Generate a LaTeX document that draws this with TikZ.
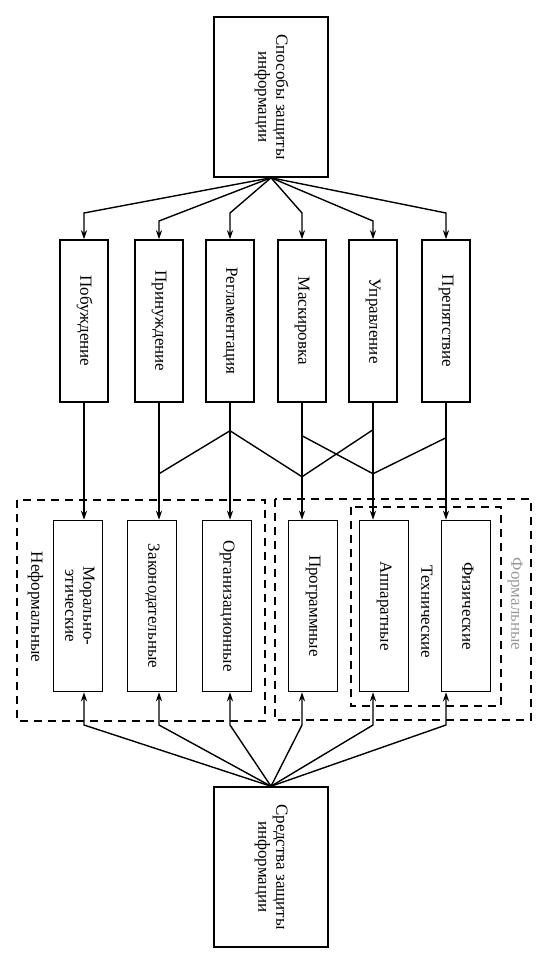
\documentclass[tikz,border=0pt]{standalone}
\usepackage{fontspec}
\setmainfont{Liberation Serif}
\usepackage{graphicx}
\usetikzlibrary{arrows.meta}
\newcommand{\vtext}[1]{\rotatebox{-90}{\begin{tabular}{@{}c@{}}#1\end{tabular}}}
\tikzset{%
    box/.style={draw, line width=1.5pt, inner sep=0pt,
        minimum width=48pt, minimum height=162pt},
    lowbox/.style={box, minimum width=49pt, minimum height=171pt},
    bigbox/.style={box, minimum width=114pt, minimum height=160pt},
    group/.style={draw, line width=1.5pt, dash pattern=on 8pt off 6pt}
}
\begin{document}
\begin{tikzpicture}[x=1pt,y=-1pt,->,>={Stealth[length=9pt,width=6pt]},
  line width=1.4pt,font=\fontsize{17}{18}\selectfont]
  \useasboundingbox (0,0) rectangle (545,971);

  % top and bottom
  \node[bigbox] (sp) at (271,97) {\vtext{Способы защиты\\информации}};
  \node[bigbox] (sr) at (271,867) {\vtext{Средства защиты\\информации}};

  % methods
  \node[box] (m1) at (84,321) {\vtext{Побуждение}};
  \node[box] (m2) at (159,321) {\vtext{Принуждение}};
  \node[box] (m3) at (230,321) {\vtext{Регламентация}};
  \node[box] (m4) at (302,321) {\vtext{Маскировка}};
  \node[box] (m5) at (373,321) {\vtext{Управление}};
  \node[box] (m6) at (446,321) {\vtext{Препятствие}};

  % means
  \node[lowbox] (l1) at (78,606) {\vtext{Морально-\\этические}};
  \node[lowbox] (l2) at (152,606) {\vtext{Законодательные}};
  \node[lowbox] (l3) at (227,606) {\vtext{Организационные}};
  \node[lowbox] (l4) at (313,606) {\vtext{Программные}};
  \node[lowbox] (l5) at (384,606) {\vtext{Аппаратные}};
  \node[lowbox] (l6) at (466,606) {\vtext{Физические}};

  % groups
  \draw[group,-] (17,500) rectangle (265,721);
  \draw[group,-] (275,499) rectangle (531,720);
  \draw[group,-] (351,507) rectangle (501,706);
  \node (nf) at (35,607) {\vtext{Неформальные}};
  \node (tech) at (425,612) {\vtext{Технические}};
  \node[gray!80] (form) at (515,604) {\vtext{Формальные}};

  % from the top box
  \coordinate (tl) at (0,213);
  \coordinate (tm) at (0,221);
  \draw (sp.south) -- (m1 |- tl) -- (m1.north);
  \draw (sp.south) -- (m2 |- tm) -- (m2.north);
  \draw (sp.south) -- (m3 |- tl) -- (m3.north);
  \draw (sp.south) -- (m4 |- tl) -- (m4.north);
  \draw (sp.south) -- (m5 |- tm) -- (m5.north);
  \draw (sp.south) -- (m6 |- tl) -- (m6.north);

  % methods to means
  \draw (m1.south) -- (m1 |- l1.north);
  \draw (m2.south) -- (m2 |- l2.north);
  \draw (m3.south) -- (m3 |- l3.north);
  \draw (m4.south) -- (m4 |- l4.north);
  \draw (m5.south) -- (m5 |- l5.north);
  \draw (m6.south) -- (m6 |- l6.north);
  \path (m2.south) ++(0,71) coordinate (j1)
        (m3.south) ++(0,28) coordinate (j2)
        (m4.south) ++(0,74) coordinate (j3)
        (m5.south) ++(0,27) coordinate (j4)
        (m4.south) ++(0,33) coordinate (j5)
        (m5.south) ++(0,71) coordinate (j6)
        (m6.south) ++(0,35) coordinate (j7);
  \draw[-] (j1) -- (j2) -- (j3) -- (j4);
  \draw[-] (j5) -- (j6) -- (j7);

  % from the bottom box
  \coordinate (bl) at (0,725);
  \draw (sr.north) -- (m1 |- bl) -- (m1 |- l1.south);
  \draw (sr.north) -- (m2 |- bl) -- (m2 |- l2.south);
  \draw (sr.north) -- (m3 |- bl) -- (m3 |- l3.south);
  \draw (sr.north) -- (m4 |- bl) -- (m4 |- l4.south);
  \draw (sr.north) -- (m5 |- bl) -- (m5 |- l5.south);
  \draw (sr.north) -- (m6 |- bl) -- (m6 |- l6.south);
\end{tikzpicture}
\end{document}
